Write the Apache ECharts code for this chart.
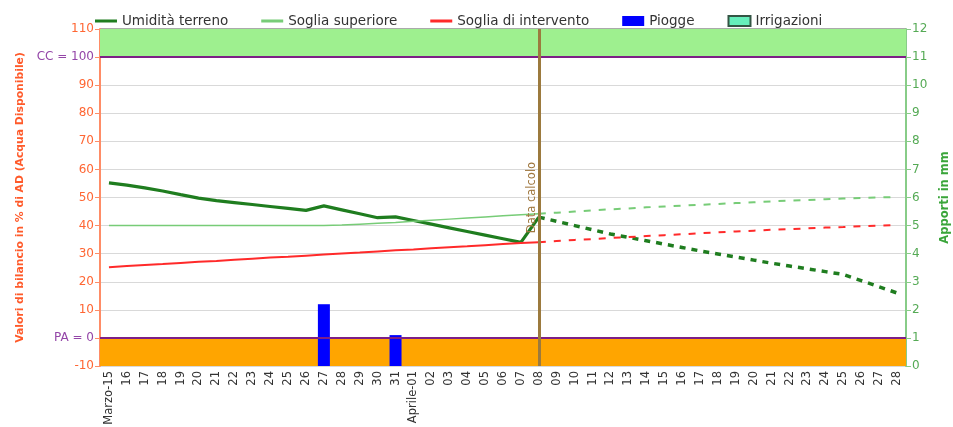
<!DOCTYPE html>
<html>
<head>
<meta charset="utf-8">
<script src="https://cdn.jsdelivr.net/npm/echarts@6/dist/echarts.min.js"></script>
<style>html,body{margin:0;padding:0;background:#fff}#c{width:953px;height:427px}</style>
</head>
<body>
<div id="c"></div>
<script>
const categories = ['Marzo-15','16','17','18','19','20','21','22','23','24','25','26','27','28','29','30','31',
  'Aprile-01','02','03','04','05','06','07','08','09','10','11','12','13','14','15','16','17','18','19','20','21','22','23','24','25','26','27','28'];
const yLeftTicks = [-10,0,10,20,30,40,50,60,70,80,90,100,110];
// observed (solid) Mar15..Apr08
const umiditaOss = [55.2,54.4,53.4,52.3,51.0,49.8,48.9,48.2,47.5,46.8,46.1,45.4,47.0,45.6,44.2,42.8,43.1,41.8,40.5,39.2,37.9,36.6,35.3,34.0,43.0];
// forecast (dashed) Apr08..Apr28
const umiditaPrev = [43.0,41.5,40.0,38.5,37.0,35.8,34.6,33.4,32.2,31.0,29.9,28.8,27.7,26.6,25.6,24.6,23.6,22.6,20.4,18.2,16.0];
const sogliaSupOss = [40,40,40,40,40,40,40,40,40,40,40,40,40,40.2,40.5,40.8,41.1,41.5,41.9,42.3,42.7,43.1,43.5,43.9,44.2];
const sogliaSupPrev = [44.2,44.6,45.0,45.4,45.8,46.1,46.5,46.8,47.1,47.4,47.7,48.0,48.3,48.6,48.9,49.1,49.4,49.6,49.8,50.0,50.2];
const sogliaIntOss = [25.2,25.6,26.0,26.3,26.7,27.1,27.4,27.8,28.2,28.6,28.9,29.3,29.7,30.1,30.4,30.8,31.2,31.5,31.9,32.3,32.6,33.0,33.4,33.8,34.1];
const sogliaIntPrev = [34.1,34.5,34.9,35.2,35.6,35.9,36.3,36.6,36.9,37.3,37.6,37.9,38.2,38.5,38.7,39.0,39.3,39.5,39.8,40.0,40.2];
const pioggeMm = [null,null,null,null,null,null,null,null,null,null,null,null,2.2,null,null,null,1.1,
  null,null,null,null,null,null,null,null,null,null,null,null,null,null,null,null,null,null,null,null,null,null,null,null,null,null,null,null];
const irrigazioniMm = [];
const CC = 100, PA = 0, dataCalcoloIndex = 24;

const N = categories.length;
function solid(arr){ const o = new Array(N).fill(null); arr.forEach((v,i)=>o[i]=v); return o; }
function dashed(arr){ const o = new Array(N).fill(null); arr.forEach((v,i)=>o[dataCalcoloIndex+i]=v); return o; }

const FONT = 'DejaVu Sans';
const cDark = '#1f7d1f', cLight = '#77cc77', cRed = '#ff2a2a';
const lineIcon = 'path://M0,0L22,0L22,0.01Z M0,3.5L22,3.5L22,6.5L0,6.5Z M0,10L22,10L22,10.01Z';

const chart = echarts.init(document.getElementById('c'), null, {renderer:'canvas'});
chart.setOption({
  animation:false,
  textStyle:{fontFamily:FONT},
  legend:{
    left:90, top:9, itemWidth:22, itemHeight:10, itemGap:33,
    textStyle:{fontSize:13.5, color:'#333', fontFamily:FONT, padding:[0,0,0,0]},
    data:[
      {name:'Umidità terreno', icon:lineIcon},
      {name:'Soglia superiore', icon:lineIcon},
      {name:'Soglia di intervento', icon:lineIcon},
      {name:'Piogge', icon:'rect'},
      {name:'Irrigazioni', icon:'rect'}
    ]
  },
  grid:{left:100, right:47, top:29, bottom:61, show:true, borderColor:'#555', borderWidth:1, outerBoundsMode:'none', containLabel:false},
  xAxis:{
    type:'category', data:categories, boundaryGap:true,
    axisLine:{lineStyle:{color:'#666'}},
    axisTick:{alignWithLabel:true, length:4, lineStyle:{color:'#666'}},
    axisLabel:{rotate:90, interval:0, fontSize:11.5, color:'#333', margin:5, fontFamily:FONT},
    splitLine:{show:false}
  },
  yAxis:[
    {type:'value', min:-10, max:110, interval:10, position:'left',
     name:'Valori di bilancio in % di AD (Acqua Disponibile)', nameLocation:'middle', nameGap:74,
     nameTextStyle:{color:'#ff5a2a', fontWeight:'bold', fontSize:10.8, fontFamily:FONT},
     axisLine:{show:true, lineStyle:{color:'#ff8c66', width:2}},
     axisTick:{show:true, length:5, lineStyle:{color:'#ff8c66'}},
     axisLabel:{color:'#ff6633', fontSize:12, margin:6, fontFamily:FONT,
       formatter:function(v){ if(v===CC) return '{p|CC = '+v+'}'; if(v===PA) return '{p|PA = '+v+'}'; return yLeftTicks.indexOf(v)>=0? String(v):''; },
       rich:{p:{color:'#9446a8', fontSize:12, fontFamily:FONT}}},
     splitLine:{show:true, lineStyle:{color:'#d9d9d9', width:1}}
    },
    {type:'value', min:0, max:12, interval:1, position:'right',
     name:'Apporti in mm', nameLocation:'middle', nameGap:33, nameRotate:90,
     nameTextStyle:{color:'#3aa53a', fontWeight:'bold', fontSize:11.5, fontFamily:FONT},
     axisLine:{show:true, lineStyle:{color:'#88cc88', width:2}},
     axisTick:{show:true, length:5, lineStyle:{color:'#88cc88'}},
     axisLabel:{color:'#55aa55', fontSize:12, margin:6, fontFamily:FONT},
     splitLine:{show:false}
    }
  ],
  series:[
    {name:'Umidità terreno', type:'line', data:solid(umiditaOss), symbol:'none', z:3,
     lineStyle:{color:cDark, width:3.2}, itemStyle:{color:cDark},
     markArea:{silent:true, z:1, itemStyle:{opacity:1},
       data:[
         [{yAxis:CC, itemStyle:{color:'#9ef08f'}},{yAxis:110}],
         [{yAxis:-10, itemStyle:{color:'#ffa500'}},{yAxis:PA}]
       ]}
    },
    {name:'Umidità terreno', type:'line', data:dashed(umiditaPrev), symbol:'none', z:3,
     lineStyle:{color:cDark, width:3.5, type:[6,6]}, itemStyle:{color:cDark}},
    {name:'Soglia superiore', type:'line', data:solid(sogliaSupOss), symbol:'none', z:3,
     lineStyle:{color:cLight, width:1.5}, itemStyle:{color:cLight}},
    {name:'Soglia superiore', type:'line', data:dashed(sogliaSupPrev), symbol:'none', z:3,
     lineStyle:{color:cLight, width:2, type:[7,8]}, itemStyle:{color:cLight}},
    {name:'Soglia di intervento', type:'line', data:solid(sogliaIntOss), symbol:'none', z:3,
     lineStyle:{color:cRed, width:2}, itemStyle:{color:cRed}},
    {name:'Soglia di intervento', type:'line', data:dashed(sogliaIntPrev), symbol:'none', z:3,
     lineStyle:{color:cRed, width:2, type:[7,8]}, itemStyle:{color:cRed}},
    {name:'Piogge', type:'bar', yAxisIndex:1, data:pioggeMm, barWidth:12, barGap:'-100%', z:4,
     itemStyle:{color:'#0000ff', borderColor:'#000099', borderWidth:0}},
    {name:'Irrigazioni', type:'bar', yAxisIndex:1, data:irrigazioniMm, barWidth:12, barGap:'-100%', z:4,
     itemStyle:{color:'#66eebb', borderColor:'#335544', borderWidth:1},
     markLine:{silent:true, symbol:'none', z:6, animation:false,
       data:[
         {yAxis:11, lineStyle:{color:'#7d1f86', width:2, type:'solid'}, label:{show:false}},
         {yAxis:1, lineStyle:{color:'#7d1f86', width:2, type:'solid'}, label:{show:false}},
         {xAxis:dataCalcoloIndex, lineStyle:{color:'#9c7a3e', width:3, type:'solid'},
          label:{show:true, formatter:'Data calcolo', position:'middle', color:'#a07840', fontSize:11.5, fontFamily:FONT, distance:1}}
       ]}
    }
  ]
});
</script>
</body>
</html>
